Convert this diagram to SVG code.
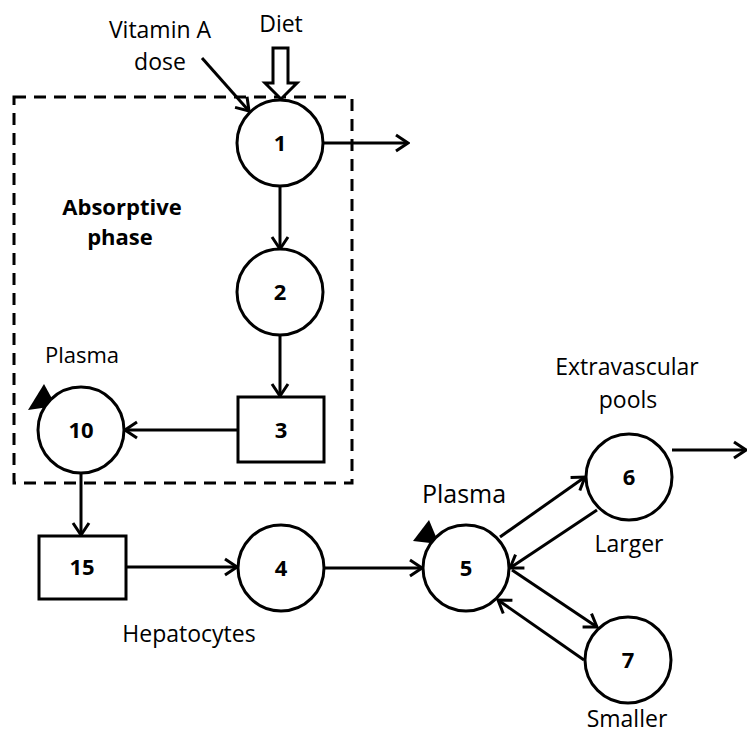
<svg xmlns="http://www.w3.org/2000/svg" width="747" height="734" viewBox="0 0 747 734">
<defs>
<marker id="arr" viewBox="0 0 16 20" markerWidth="16" markerHeight="20" refX="14" refY="10" orient="auto" markerUnits="userSpaceOnUse">
<path d="M2,2 L14,10 L2,18" fill="none" stroke="#000" stroke-width="3"/>
</marker>
<style>
.n{fill:#fff;stroke:#000;stroke-width:3}
.num{font-family:"Open Sans","Liberation Sans",sans-serif;font-weight:bold;font-size:22px;text-anchor:middle;fill:#000}
.lbl{font-family:"Open Sans","Liberation Sans",sans-serif;font-size:23px;text-anchor:middle;fill:#000}
.c{fill:none;stroke:#000;stroke-width:3;marker-end:url(#arr)}
</style>
</defs>
<rect width="747" height="734" fill="#fff"/>
<rect x="14" y="97" width="338" height="386" fill="none" stroke="#000" stroke-width="3" stroke-dasharray="12,8"/>
<g id="connectors">
<line class="c" x1="202" y1="58" x2="249" y2="111"/>
<line class="c" x1="323" y1="143" x2="408" y2="143"/>
<line class="c" x1="280" y1="186" x2="280" y2="249"/>
<line class="c" x1="280" y1="335" x2="280" y2="396"/>
<line class="c" x1="238" y1="430" x2="125" y2="430"/>
<line class="c" x1="81" y1="473" x2="81" y2="535"/>
<line class="c" x1="126" y1="567" x2="237" y2="567"/>
<line class="c" x1="324" y1="568" x2="422" y2="568"/>
<line class="c" x1="500" y1="537" x2="585" y2="477"/>
<line class="c" x1="597" y1="510" x2="510" y2="568"/>
<line class="c" x1="512" y1="570" x2="597" y2="627"/>
<line class="c" x1="584" y1="660" x2="498" y2="600"/>
<line class="c" x1="672" y1="450" x2="746" y2="450"/>
<polygon points="273,48 288,48 288,83 297,83 281,99 265,83 273,83" fill="#fff" stroke="#000" stroke-width="3" stroke-linejoin="miter"/>
<polygon points="28,410 44,384 56,406" fill="#000"/>
<polygon points="413,541 429,520 439,544" fill="#000"/>
</g>
<text class="lbl" x="160" y="38">Vitamin A</text>
<text class="lbl" x="160" y="70">dose</text>
<text class="lbl" x="281" y="32">Diet</text>
<text class="lbl" x="122" y="215" style="font-weight:bold;font-size:22px">Absorptive</text>
<text class="lbl" x="120" y="245" style="font-weight:bold;font-size:22px">phase</text>
<text class="lbl" x="82" y="363" style="font-size:22px">Plasma</text>
<text class="lbl" x="627" y="375">Extravascular</text>
<text class="lbl" x="628" y="408">pools</text>
<text class="lbl" x="464" y="503" style="font-size:25px">Plasma</text>
<text class="lbl" x="629" y="552">Larger</text>
<text class="lbl" x="627" y="727">Smaller</text>
<text class="lbl" x="189" y="642">Hepatocytes</text>
<g id="n1"><circle class="n" cx="280" cy="143" r="43"/><text class="num" x="280" y="151">1</text></g>
<g id="n2"><circle class="n" cx="280" cy="292" r="43"/><text class="num" x="280" y="300">2</text></g>
<g id="n3"><rect class="n" x="238" y="397" width="86" height="65"/><text class="num" x="281" y="438">3</text></g>
<g id="n10"><circle class="n" cx="81" cy="430" r="43"/><text class="num" x="81" y="438">10</text></g>
<g id="n15"><rect class="n" x="39" y="536" width="87" height="63"/><text class="num" x="82" y="575">15</text></g>
<g id="n4"><circle class="n" cx="281" cy="568" r="43"/><text class="num" x="281" y="576">4</text></g>
<g id="n5"><circle class="n" cx="466" cy="568" r="43"/><text class="num" x="466" y="576">5</text></g>
<g id="n6"><circle class="n" cx="629" cy="477" r="43"/><text class="num" x="629" y="485">6</text></g>
<g id="n7"><circle class="n" cx="628" cy="660" r="43"/><text class="num" x="628" y="668">7</text></g>
</svg>
